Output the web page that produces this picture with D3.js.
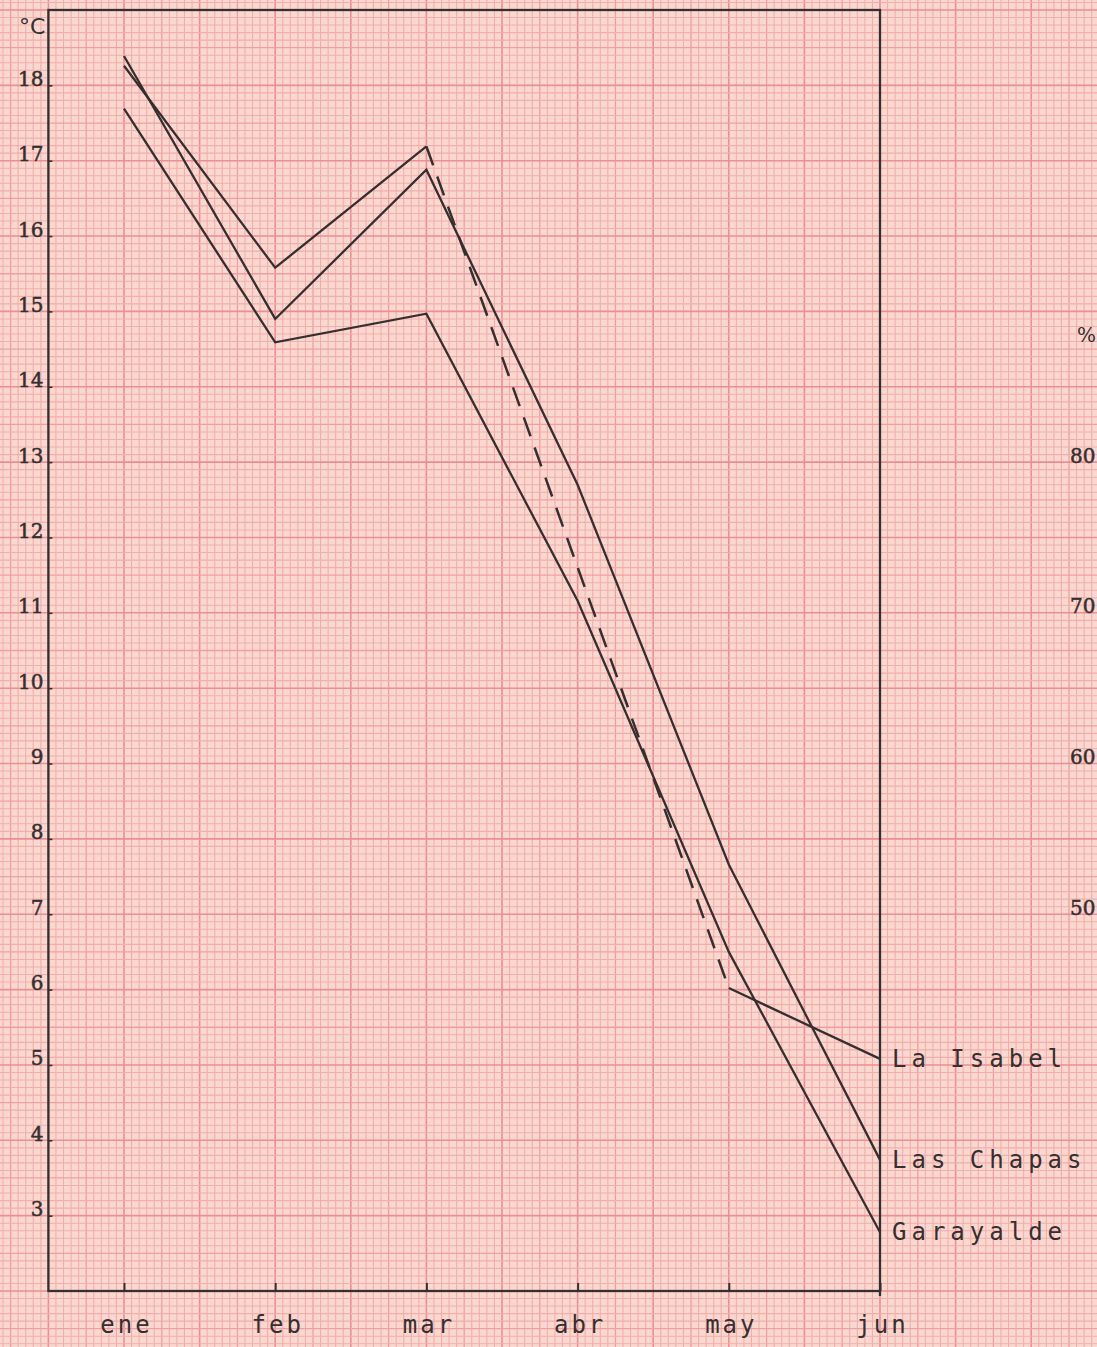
<!DOCTYPE html>
<html>
<head>
<meta charset="utf-8">
<script src="https://cdn.jsdelivr.net/npm/d3@7"></script>
<style>
  body { margin: 0; background: #f9d6ce; }
  svg { display: block; }
</style>
</head>
<body>
<svg id="chart" width="1097" height="1347"></svg>
<script>
// monthly mean temperature (°C)
const months = ["ene", "feb", "mar", "abr", "may", "jun"];
const laIsabel = [18.26, 15.58, 17.19, null, 6.02, 5.08];
const lasChapas = [18.39, 14.9, 16.88, 12.7, 7.66, 3.74];
const garayalde = [17.69, 14.59, 14.97, 11.16, 6.5, 2.78];
const stations = ["La Isabel", "Las Chapas", "Garayalde"];
const tempTicks = [3, 4, 5, 6, 7, 8, 9, 10, 11, 12, 13, 14, 15, 16, 17, 18];
const pctTicks = [50, 60, 70, 80];

const INK = "#352f30";
const W = 1097;
const H = 1347;

const svg = d3.select("#chart");

const x = d3.scaleLinear().domain([0, 5]).range([124, 880]);
const y = d3.scaleLinear().domain([2, 19]).range([1291, 10]);
const yPct = d3.scaleLinear().domain([25, 110]).range([1291, 10]);

// --- graph paper: 1 mm lines, 5 mm and 10 mm emphasised
const paper = svg.append("g").attr("class", "paper");

paper
  .append("rect")
  .attr("width", W)
  .attr("height", H)
  .attr("fill", "#fad8d0");

const vLines = d3.range(-19, 133).map((k) => ({ k, v: k / 20 }));
const hLines = d3.range(11, 193).map((k) => ({ k, v: k / 10 }));

const lineStyle = (k) =>
  k % 10 === 0
    ? { c: "#ec8e95", w: 1.6 }
    : k % 5 === 0
    ? { c: "#ef9fa1", w: 1.3 }
    : { c: "#f2aeab", w: 1.1 };

paper
  .selectAll(".v-grid")
  .data(vLines)
  .join("line")
  .attr("class", "v-grid")
  .attr("x1", (d) => x(d.v))
  .attr("x2", (d) => x(d.v))
  .attr("y1", 0)
  .attr("y2", H)
  .attr("stroke", (d) => lineStyle(d.k).c)
  .attr("stroke-width", (d) => lineStyle(d.k).w);

paper
  .selectAll(".h-grid")
  .data(hLines)
  .join("line")
  .attr("class", "h-grid")
  .attr("x1", 0)
  .attr("x2", W)
  .attr("y1", (d) => y(d.v))
  .attr("y2", (d) => y(d.v))
  .attr("stroke", (d) => lineStyle(d.k).c)
  .attr("stroke-width", (d) => lineStyle(d.k).w);

// --- frame
svg
  .append("rect")
  .attr("x", x(-0.5))
  .attr("y", y(19))
  .attr("width", x(5) - x(-0.5))
  .attr("height", y(2) - y(19))
  .attr("fill", "none")
  .attr("stroke", INK)
  .attr("stroke-width", 2.3);

// right edge runs a little past the bottom line
svg
  .append("line")
  .attr("x1", x(5))
  .attr("x2", x(5))
  .attr("y1", y(2))
  .attr("y2", y(2) + 5)
  .attr("stroke", INK)
  .attr("stroke-width", 2.3);

// --- month axis
const xAxis = d3
  .axisBottom(x)
  .tickValues(d3.range(months.length))
  .tickFormat((i) => months[i])
  .tickSize(-8)
  .tickPadding(25);

const gx = svg
  .append("g")
  .attr("transform", `translate(0, ${y(2)})`)
  .call(xAxis);

gx.select(".domain").remove();
gx.selectAll("line").attr("stroke", INK).attr("stroke-width", 2);
gx.selectAll("text")
  .attr("fill", INK)
  .attr("font-family", "'DejaVu Sans Mono', monospace")
  .attr("font-size", 24)
  .attr("letter-spacing", 3)
  .attr("dx", 2);
gx.attr("font-family", null).attr("font-size", null);

// --- temperature axis
const yAxis = d3
  .axisLeft(y)
  .tickValues(tempTicks)
  .tickSize(-4)
  .tickPadding(5);

const gy = svg
  .append("g")
  .attr("transform", `translate(${x(-0.5)}, 0)`)
  .call(yAxis);

gy.select(".domain").remove();
gy.selectAll("line").attr("stroke", INK).attr("stroke-width", 1.6);
gy.selectAll("text")
  .attr("fill", INK)
  .attr("stroke", INK)
  .attr("stroke-width", 0.5)
  .attr("dy", "0em")
  .attr("font-family", "'DejaVu Serif', serif")
  .attr("font-size", 20);
gy.attr("font-family", null).attr("font-size", null);

svg
  .append("text")
  .attr("x", x(-0.5) - 3)
  .attr("y", 34)
  .attr("text-anchor", "end")
  .attr("fill", INK)
  .attr("font-family", "'DejaVu Sans', sans-serif")
  .attr("font-size", 22)
  .text("°C");

// --- humidity axis (clipped at the right edge, as on the sheet)
const pAxis = d3.axisRight(yPct).tickValues(pctTicks).tickSize(0).tickPadding(7);

const gp = svg.append("g").attr("transform", "translate(1063, 0)").call(pAxis);

gp.select(".domain").remove();
gp.selectAll("text")
  .attr("fill", INK)
  .attr("stroke", INK)
  .attr("stroke-width", 0.5)
  .attr("dy", "0em")
  .attr("font-family", "'DejaVu Serif', serif")
  .attr("font-size", 20);
gp.attr("font-family", null).attr("font-size", null);

svg
  .append("text")
  .attr("x", 1077)
  .attr("y", yPct(88))
  .attr("fill", INK)
  .attr("font-family", "'DejaVu Serif', serif")
  .attr("font-size", 20)
  .text("%");

// --- series
const series = [laIsabel, lasChapas, garayalde];

const line = d3
  .line()
  .defined((d) => d[1] != null)
  .x((d) => x(d[0]))
  .y((d) => y(d[1]));

svg
  .selectAll(".data-line")
  .data(series.map((s) => s.map((v, i) => [i, v])))
  .join("path")
  .attr("class", "data-line")
  .attr("d", line)
  .attr("fill", "none")
  .attr("stroke", INK)
  .attr("stroke-width", 2.3)
  .attr("stroke-linejoin", "miter");

// dashed bridge over the missing month(s)
const bridges = [];
series.forEach((s) => {
  s.forEach((v, i) => {
    if (v == null) return;
    let j = i + 1;
    while (j < s.length && s[j] == null) j++;
    if (j > i + 1 && j < s.length) bridges.push([[i, v], [j, s[j]]]);
  });
});

svg
  .selectAll(".gap-line")
  .data(bridges)
  .join("path")
  .attr("class", "gap-line")
  .attr("d", (d) => line(d))
  .attr("fill", "none")
  .attr("stroke", INK)
  .attr("stroke-width", 2.5)
  .attr("stroke-dasharray", "20,12");

// --- station labels at the June end
svg
  .selectAll(".station-label")
  .data(series)
  .join("text")
  .attr("class", "station-label")
  .attr("x", x(5) + 12)
  .attr("y", (d) => y(d[d.length - 1]) + 8)
  .attr("fill", INK)
  .attr("font-family", "'DejaVu Sans Mono', monospace")
  .attr("font-size", 24)
  .attr("letter-spacing", 5)
  .text((d, i) => stations[i]);
</script>
</body>
</html>
